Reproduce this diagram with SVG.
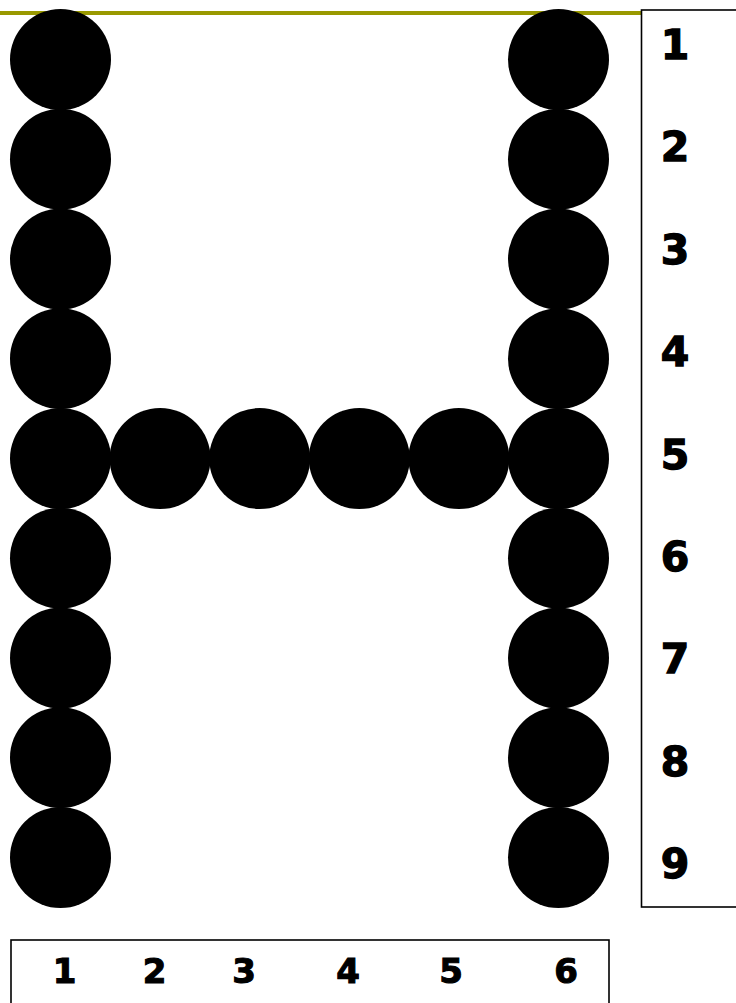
<svg xmlns="http://www.w3.org/2000/svg" width="736" height="1003" viewBox="0 0 736 1003">
<style>
.dot{fill:#000}
.box{fill:none;stroke:#000;stroke-width:1.6}
.rn{font-family:"DejaVu Sans",Verdana,sans-serif;font-weight:bold;font-size:41px;fill:#000;stroke:#000;stroke-width:1.3;text-anchor:middle}
.bn{font-family:"DejaVu Sans",Verdana,sans-serif;font-weight:bold;font-size:34px;fill:#000;stroke:#000;stroke-width:1.1;text-anchor:middle}
</style>
<rect width="736" height="1003" fill="#fff"/>
<line id="topline" x1="0" y1="13" x2="641" y2="13" stroke="#999900" stroke-width="4"/>
<g id="dots">
<circle class="dot" cx="60.5" cy="59.5" r="50.5"/>
<circle class="dot" cx="60.5" cy="159.2" r="50.5"/>
<circle class="dot" cx="60.5" cy="259" r="50.5"/>
<circle class="dot" cx="60.5" cy="358.7" r="50.5"/>
<circle class="dot" cx="60.5" cy="458.5" r="50.5"/>
<circle class="dot" cx="60.5" cy="558.2" r="50.5"/>
<circle class="dot" cx="60.5" cy="658" r="50.5"/>
<circle class="dot" cx="60.5" cy="757.7" r="50.5"/>
<circle class="dot" cx="60.5" cy="857.5" r="50.5"/>
<circle class="dot" cx="558.5" cy="59.5" r="50.5"/>
<circle class="dot" cx="558.5" cy="159.2" r="50.5"/>
<circle class="dot" cx="558.5" cy="259" r="50.5"/>
<circle class="dot" cx="558.5" cy="358.7" r="50.5"/>
<circle class="dot" cx="558.5" cy="458.5" r="50.5"/>
<circle class="dot" cx="558.5" cy="558.2" r="50.5"/>
<circle class="dot" cx="558.5" cy="658" r="50.5"/>
<circle class="dot" cx="558.5" cy="757.7" r="50.5"/>
<circle class="dot" cx="558.5" cy="857.5" r="50.5"/>
<circle class="dot" cx="160.1" cy="458.5" r="50.5"/>
<circle class="dot" cx="259.7" cy="458.5" r="50.5"/>
<circle class="dot" cx="359.3" cy="458.5" r="50.5"/>
<circle class="dot" cx="458.9" cy="458.5" r="50.5"/>
</g>
<g id="rowbox">
<rect class="box" x="641.5" y="10" width="120" height="897"/>
<text class="rn" x="675" y="59">1</text>
<text class="rn" x="675" y="161.4">2</text>
<text class="rn" x="675" y="263.8">3</text>
<text class="rn" x="675" y="366.2">4</text>
<text class="rn" x="675" y="468.6">5</text>
<text class="rn" x="675" y="571">6</text>
<text class="rn" x="675" y="673.4">7</text>
<text class="rn" x="675" y="775.8">8</text>
<text class="rn" x="675" y="878.2">9</text>
</g>
<g id="colbox">
<rect class="box" x="11" y="940" width="598" height="80"/>
<text class="bn" x="64.5" y="983">1</text>
<text class="bn" x="154.5" y="983">2</text>
<text class="bn" x="244" y="983">3</text>
<text class="bn" x="348" y="983">4</text>
<text class="bn" x="451" y="983">5</text>
<text class="bn" x="566" y="983">6</text>
</g>
</svg>
